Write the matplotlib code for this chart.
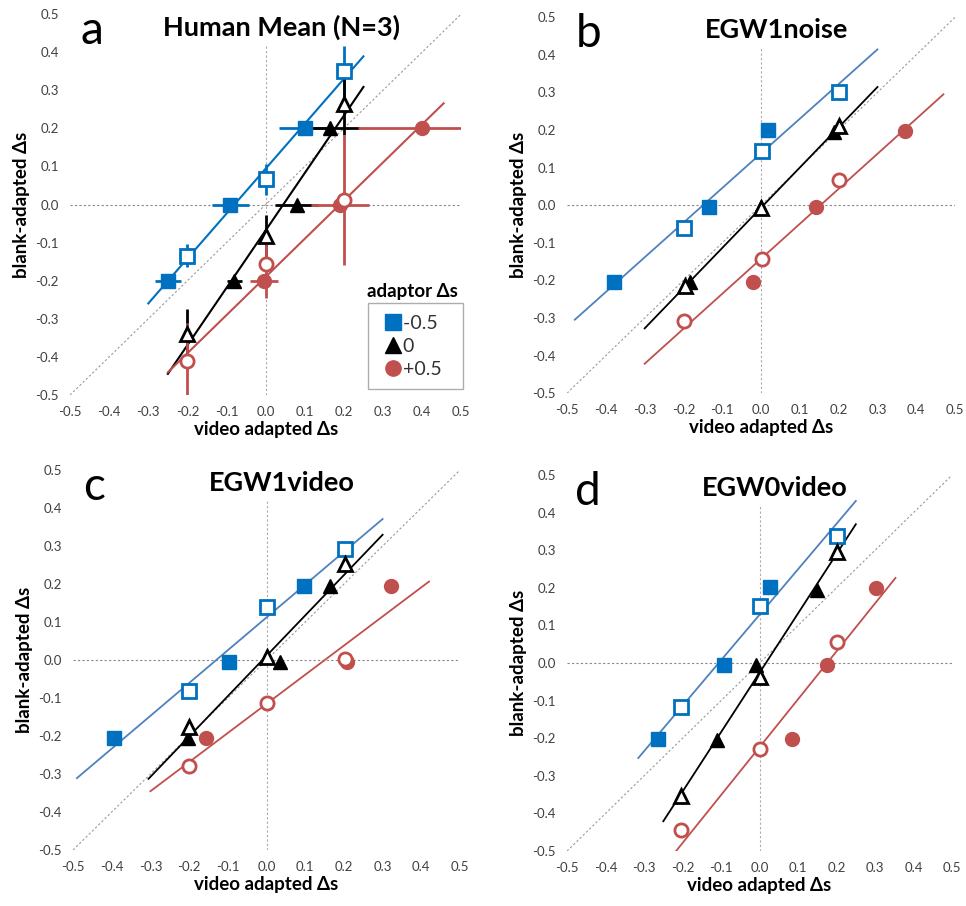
import numpy as np
import matplotlib.pyplot as plt

plt.rcParams['font.family'] = ['Lato', 'DejaVu Sans']

# panel titles
panel_letters = ['a', 'b', 'c', 'd']
panel_titles = ['Human Mean (N=3)', 'EGW1noise', 'EGW1video', 'EGW0video']

# series per adaptor: -0.5 (blue square), 0 (black triangle), +0.5 (red circle)
# filled = x estimated with y fixed, open = y estimated with x fixed
filled_x = {
    'a': [[-0.25, -0.09, 0.10], [-0.08, 0.08, 0.165], [-0.005, 0.19, 0.40]],
    'b': [[-0.378, -0.134, 0.017], [-0.182, 0.0, 0.189], [-0.022, 0.142, 0.371]],
    'c': [[-0.393, -0.097, 0.098], [-0.203, 0.036, 0.165], [-0.156, 0.209, 0.321]],
    'd': [[-0.263, -0.093, 0.026], [-0.11, -0.009, 0.15], [0.085, 0.176, 0.303]],
}
filled_y = {
    'a': [[-0.2, 0.0, 0.2], [-0.2, 0.0, 0.2], [-0.2, 0.0, 0.2]],
    'b': [[-0.205, -0.004, 0.199], [-0.205, -0.004, 0.194], [-0.204, -0.004, 0.197]],
    'c': [[-0.206, -0.004, 0.196], [-0.206, -0.006, 0.196], [-0.204, -0.006, 0.196]],
    'd': [[-0.202, -0.004, 0.201], [-0.204, -0.004, 0.195], [-0.202, -0.004, 0.199]],
}
open_x = {
    'a': [[-0.2, 0.0, 0.2], [-0.2, 0.0, 0.2], [-0.2, 0.0, 0.2]],
    'b': [[-0.199, 0.002, 0.2], [-0.197, 0.0, 0.202], [-0.199, 0.002, 0.2]],
    'c': [[-0.2, 0.001, 0.202], [-0.2, 0.001, 0.202], [-0.2, 0.001, 0.202]],
    'd': [[-0.203, 0.0, 0.2], [-0.203, 0.0, 0.2], [-0.203, 0.0, 0.2]],
}
open_y = {
    'a': [[-0.134, 0.066, 0.35], [-0.34, -0.082, 0.263], [-0.41, -0.156, 0.012]],
    'b': [[-0.061, 0.144, 0.301], [-0.215, -0.007, 0.21], [-0.307, -0.143, 0.066]],
    'c': [[-0.081, 0.14, 0.292], [-0.175, 0.007, 0.252], [-0.278, -0.114, 0.003]],
    'd': [[-0.118, 0.152, 0.339], [-0.354, -0.038, 0.294], [-0.445, -0.23, 0.055]],
}
# error bars (human data only)
filled_xerr_a = [[0.033, 0.048, 0.065], [0.02, 0.055, 0.075], [0.036, 0.075, 0.164]]
open_yerr_a = [[0.03, 0.04, 0.065], [0.065, 0.055, 0.08], [0.1, 0.09, 0.17]]

# x range of the fitted lines
fit_range = {
    'a': [[-0.30, 0.25], [-0.25, 0.25], [-0.25, 0.455]],
    'b': [[-0.48, 0.30], [-0.30, 0.30], [-0.30, 0.47]],
    'c': [[-0.49, 0.30], [-0.305, 0.30], [-0.30, 0.42]],
    'd': [[-0.315, 0.25], [-0.25, 0.25], [-0.25, 0.353]],
}

marker_colors = ['#0070C0', 'black', '#C0504D']
line_colors_a = ['#0070C0', 'black', '#C0504D']
line_colors = ['#4F81BD', 'black', '#C0504D']
markers = ['s', '^', 'o']
legend_labels = ['-0.5', '0', '+0.5']
ticks = [-0.5, -0.4, -0.3, -0.2, -0.1, 0.0, 0.1, 0.2, 0.3, 0.4, 0.5]

fig = plt.figure(figsize=(9.66, 9.06), dpi=100)
positions = [
    [0.0725, 0.564, 0.405, 0.4205],
    [0.587, 0.566, 0.4017, 0.415],
    [0.0756, 0.0618, 0.4006, 0.4194],
    [0.587, 0.0607, 0.3986, 0.415],
]

for p, key in enumerate(panel_letters):
    ax = fig.add_axes(positions[p])
    ax.set_xlim(-0.5, 0.5)
    ax.set_ylim(-0.5, 0.5)
    for s in ax.spines.values():
        s.set_visible(False)

    # reference lines
    ax.plot([-0.5, 0.5], [-0.5, 0.5], color='#999999', lw=0.8, ls=(0, (2, 2)), zorder=1)
    ax.axhline(0, color='#888888', lw=0.8, ls=(0, (2, 2)), zorder=1)
    ax.plot([0, 0], [-0.5, 0.42], color='#aaaaaa', lw=0.8, ls=(0, (2, 2)), zorder=1)

    for i in range(3):
        xs = np.array(filled_x[key][i] + open_x[key][i])
        ys = np.array(filled_y[key][i] + open_y[key][i])
        k, b = np.polyfit(xs, ys, 1)
        xr = np.array(fit_range[key][i])
        lc = line_colors_a[i] if key == 'a' else line_colors[i]
        ax.plot(xr, k * xr + b, color=lc, lw=1.5 if key == 'a' else 1.3, zorder=2)

        if key == 'a':
            ax.errorbar(filled_x[key][i], filled_y[key][i], xerr=filled_xerr_a[i],
                        fmt='none', ecolor=marker_colors[i], elinewidth=2, zorder=3)
            ax.errorbar(open_x[key][i], open_y[key][i], yerr=open_yerr_a[i],
                        fmt='none', ecolor=marker_colors[i], elinewidth=2, zorder=3)

        ax.plot(filled_x[key][i], filled_y[key][i], ls='none', marker=markers[i],
                ms=10, color=marker_colors[i], mec=marker_colors[i], zorder=4)
        ax.plot(open_x[key][i], open_y[key][i], ls='none', marker=markers[i],
                ms=9.5, mfc='white', mec=marker_colors[i], mew=2, zorder=5)

    ax.set_xticks(ticks)
    ax.set_yticks(ticks)
    ax.set_xticklabels([f'{t:.1f}' for t in ticks])
    ax.set_yticklabels([f'{t:.1f}' for t in ticks])
    ax.tick_params(length=0, labelsize=9.5, colors='#404040', pad=8)
    ax.set_xlabel('video adapted Δs', fontsize=13.5, fontweight='bold', labelpad=2)
    ax.set_ylabel('blank-adapted Δs', fontsize=13.5, fontweight='bold', labelpad=4)

    ax.text(0.055, 0.955, key, transform=ax.transAxes, fontsize=33, va='center', ha='center')
    ax.text(0.54, 0.965, panel_titles[p], transform=ax.transAxes, fontsize=19.5,
            fontweight='bold', va='center', ha='center')

    if key == 'a':
        handles = [plt.Line2D([], [], ls='none', marker=markers[i], ms=11,
                              color=marker_colors[i]) for i in range(3)]
        leg = ax.legend(handles, [l + '  ' for l in legend_labels], loc='lower right',
                        bbox_to_anchor=(1.005, 0.015), fontsize=14, frameon=True,
                        fancybox=False, handlelength=1.4, handletextpad=-0.2,
                        labelspacing=0.3, borderpad=0.6, borderaxespad=0,
                        edgecolor='#999999')
        leg.get_frame().set_linewidth(1.0)
        for t in leg.get_texts():
            t.set_color('#333333')
        ax.text(0.875, 0.273, 'adaptor Δs', transform=ax.transAxes, fontsize=13.5,
                fontweight='bold', ha='center', va='center')

fig.savefig('out.png', dpi=100)
